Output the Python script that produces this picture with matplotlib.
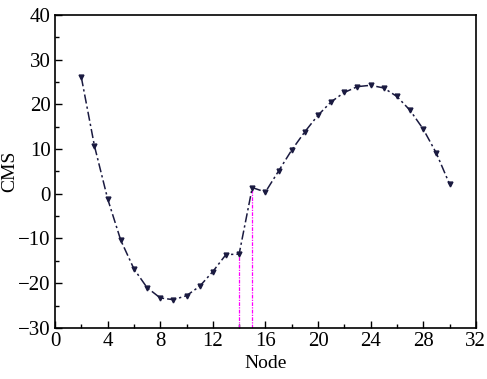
import matplotlib
matplotlib.use("Agg")
import matplotlib.pyplot as plt
from matplotlib.ticker import MultipleLocator

plt.rcParams['font.family'] = ['Liberation Serif', 'DejaVu Serif']

nodes = list(range(2, 31))
cms = [26.1, 10.7, -1.1, -10.4, -16.8, -21.0, -23.3, -23.7, -22.8, -20.7,
       -17.4, -13.6, -13.5, 1.4, 0.4, 5.1, 9.8, 13.9, 17.6, 20.6,
       22.7, 24.0, 24.3, 23.7, 21.8, 18.7, 14.5, 9.1, 2.2]
marked_nodes = [14, 15]

fig = plt.figure(figsize=(4.87, 3.79), dpi=100)
ax = fig.add_axes([0.113, 0.135, 0.864, 0.825])

for n in marked_nodes:
    v = cms[nodes.index(n)]
    ax.plot([n, n], [-30, v], color='#ff00ff', lw=0.9, ls=(0, (3, 1, 1, 1)))

ax.plot(nodes, cms, color='#1a1a40', lw=1.1, ls=(0, (6, 2, 1.5, 2)),
        marker='v', markersize=3.5, markerfacecolor='#1a1a40', markeredgecolor='#1a1a40')

ax.set_xlim(0, 32)
ax.set_ylim(-30, 40)
ax.xaxis.set_major_locator(MultipleLocator(4))
ax.xaxis.set_minor_locator(MultipleLocator(2))
ax.yaxis.set_major_locator(MultipleLocator(10))
ax.yaxis.set_minor_locator(MultipleLocator(5))
ax.tick_params(which='both', direction='in', top=False, right=False, labelsize=15)
ax.tick_params(which='major', length=5, width=1)
ax.tick_params(which='minor', length=3, width=1)
ax.tick_params(axis='x', pad=3)
ax.tick_params(axis='y', pad=3)
for s in ax.spines.values():
    s.set_linewidth(1.2)
ax.set_xlabel('Node', fontsize=14, labelpad=3)
ax.set_ylabel('CMS', fontsize=14, labelpad=0)

fig.savefig('out.png', dpi=100)
